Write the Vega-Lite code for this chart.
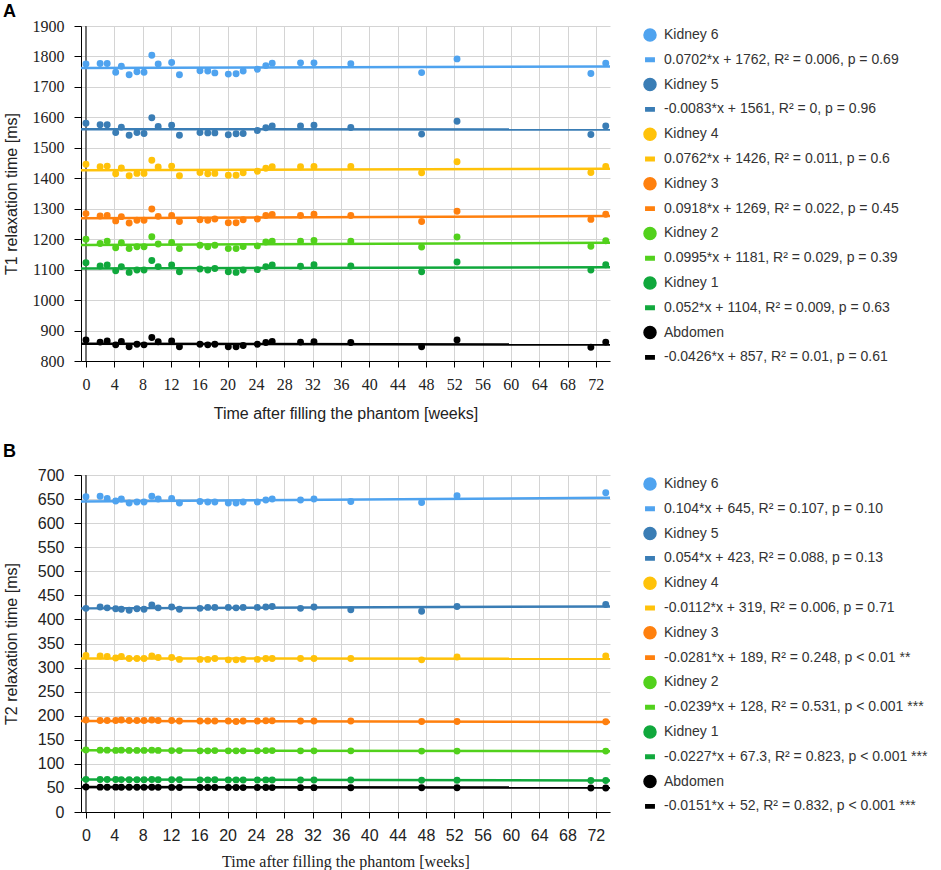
{
  "$schema": "https://vega.github.io/schema/vega-lite/v6.json",
  "background": "white",
  "padding": {"left": 3, "top": 3, "right": 5, "bottom": 3},
  "spacing": 22,
  "config": {
    "view": {"stroke": null},
    "axis": {"gridColor": "#d4d4d4", "domainColor": "#000", "tickColor": "#000", "labelColor": "#222", "titleColor": "#222", "titleFontWeight": "normal", "labelFont": "Liberation Serif", "labelFontSize": 16, "titleFontSize": 16, "labelOverlap": false, "labelFlush": false},
    "legend": {"labelFont": "Liberation Sans", "labelFontSize": 14, "labelColor": "#333", "labelLimit": 400, "symbolSize": 144, "rowPadding": 8.8, "offset": 26, "labelOffset": 7, "padding": 2},
    "title": {"font": "Liberation Sans", "fontSize": 18, "fontWeight": "bold", "anchor": "start", "frame": "bounds", "color": "#000"}
  },
  "datasets": {
    "a": [
      {"s":"Kidney 6","w":0,"v":1775},{"s":"Kidney 6","w":2,"v":1777},{"s":"Kidney 6","w":3,"v":1777},{"s":"Kidney 6","w":4.2,"v":1748},{"s":"Kidney 6","w":5,"v":1768},{"s":"Kidney 6","w":6.1,"v":1740},{"s":"Kidney 6","w":7.2,"v":1750},{"s":"Kidney 6","w":8.2,"v":1748},{"s":"Kidney 6","w":9.3,"v":1804},{"s":"Kidney 6","w":10.2,"v":1775},{"s":"Kidney 6","w":12.1,"v":1780},{"s":"Kidney 6","w":13.2,"v":1740},{"s":"Kidney 6","w":16.1,"v":1753},{"s":"Kidney 6","w":17.2,"v":1752},{"s":"Kidney 6","w":18.2,"v":1746},{"s":"Kidney 6","w":20.1,"v":1742},{"s":"Kidney 6","w":21.2,"v":1743},{"s":"Kidney 6","w":22.2,"v":1752},{"s":"Kidney 6","w":24.2,"v":1758},{"s":"Kidney 6","w":25.4,"v":1770},{"s":"Kidney 6","w":26.3,"v":1778},{"s":"Kidney 6","w":30.3,"v":1779},{"s":"Kidney 6","w":32.2,"v":1779},{"s":"Kidney 6","w":37.4,"v":1776},{"s":"Kidney 6","w":47.4,"v":1747},{"s":"Kidney 6","w":52.4,"v":1792},{"s":"Kidney 6","w":71.3,"v":1744},{"s":"Kidney 6","w":73.4,"v":1778},
      {"s":"Kidney 5","w":0,"v":1581},{"s":"Kidney 5","w":2,"v":1576},{"s":"Kidney 5","w":3,"v":1576},{"s":"Kidney 5","w":4.2,"v":1550},{"s":"Kidney 5","w":5,"v":1568},{"s":"Kidney 5","w":6.1,"v":1541},{"s":"Kidney 5","w":7.2,"v":1550},{"s":"Kidney 5","w":8.2,"v":1547},{"s":"Kidney 5","w":9.3,"v":1599},{"s":"Kidney 5","w":10.2,"v":1570},{"s":"Kidney 5","w":12.1,"v":1574},{"s":"Kidney 5","w":13.2,"v":1541},{"s":"Kidney 5","w":16.1,"v":1550},{"s":"Kidney 5","w":17.2,"v":1549},{"s":"Kidney 5","w":18.2,"v":1549},{"s":"Kidney 5","w":20.1,"v":1543},{"s":"Kidney 5","w":21.2,"v":1546},{"s":"Kidney 5","w":22.2,"v":1547},{"s":"Kidney 5","w":24.2,"v":1557},{"s":"Kidney 5","w":25.4,"v":1566},{"s":"Kidney 5","w":26.3,"v":1572},{"s":"Kidney 5","w":30.3,"v":1572},{"s":"Kidney 5","w":32.2,"v":1574},{"s":"Kidney 5","w":37.4,"v":1567},{"s":"Kidney 5","w":47.4,"v":1545},{"s":"Kidney 5","w":52.4,"v":1587},{"s":"Kidney 5","w":71.3,"v":1544},{"s":"Kidney 5","w":73.4,"v":1572},
      {"s":"Kidney 4","w":0,"v":1446},{"s":"Kidney 4","w":2,"v":1438},{"s":"Kidney 4","w":3,"v":1440},{"s":"Kidney 4","w":4.2,"v":1415},{"s":"Kidney 4","w":5,"v":1434},{"s":"Kidney 4","w":6.1,"v":1408},{"s":"Kidney 4","w":7.2,"v":1416},{"s":"Kidney 4","w":8.2,"v":1416},{"s":"Kidney 4","w":9.3,"v":1459},{"s":"Kidney 4","w":10.2,"v":1437},{"s":"Kidney 4","w":12.1,"v":1440},{"s":"Kidney 4","w":13.2,"v":1408},{"s":"Kidney 4","w":16.1,"v":1419},{"s":"Kidney 4","w":17.2,"v":1415},{"s":"Kidney 4","w":18.2,"v":1416},{"s":"Kidney 4","w":20.1,"v":1410},{"s":"Kidney 4","w":21.2,"v":1410},{"s":"Kidney 4","w":22.2,"v":1418},{"s":"Kidney 4","w":24.2,"v":1423},{"s":"Kidney 4","w":25.4,"v":1433},{"s":"Kidney 4","w":26.3,"v":1438},{"s":"Kidney 4","w":30.3,"v":1438},{"s":"Kidney 4","w":32.2,"v":1439},{"s":"Kidney 4","w":37.4,"v":1439},{"s":"Kidney 4","w":47.4,"v":1418},{"s":"Kidney 4","w":52.4,"v":1454},{"s":"Kidney 4","w":71.3,"v":1419},{"s":"Kidney 4","w":73.4,"v":1439},
      {"s":"Kidney 3","w":0,"v":1284},{"s":"Kidney 3","w":2,"v":1276},{"s":"Kidney 3","w":3,"v":1278},{"s":"Kidney 3","w":4.2,"v":1260},{"s":"Kidney 3","w":5,"v":1274},{"s":"Kidney 3","w":6.1,"v":1253},{"s":"Kidney 3","w":7.2,"v":1262},{"s":"Kidney 3","w":8.2,"v":1262},{"s":"Kidney 3","w":9.3,"v":1299},{"s":"Kidney 3","w":10.2,"v":1275},{"s":"Kidney 3","w":12.1,"v":1278},{"s":"Kidney 3","w":13.2,"v":1258},{"s":"Kidney 3","w":16.1,"v":1264},{"s":"Kidney 3","w":17.2,"v":1262},{"s":"Kidney 3","w":18.2,"v":1266},{"s":"Kidney 3","w":20.1,"v":1254},{"s":"Kidney 3","w":21.2,"v":1254},{"s":"Kidney 3","w":22.2,"v":1264},{"s":"Kidney 3","w":24.2,"v":1266},{"s":"Kidney 3","w":25.4,"v":1278},{"s":"Kidney 3","w":26.3,"v":1281},{"s":"Kidney 3","w":30.3,"v":1278},{"s":"Kidney 3","w":32.2,"v":1282},{"s":"Kidney 3","w":37.4,"v":1278},{"s":"Kidney 3","w":47.4,"v":1258},{"s":"Kidney 3","w":52.4,"v":1292},{"s":"Kidney 3","w":71.3,"v":1265},{"s":"Kidney 3","w":73.4,"v":1282},
      {"s":"Kidney 2","w":0,"v":1200},{"s":"Kidney 2","w":2,"v":1186},{"s":"Kidney 2","w":3,"v":1193},{"s":"Kidney 2","w":4.2,"v":1172},{"s":"Kidney 2","w":5,"v":1188},{"s":"Kidney 2","w":6.1,"v":1169},{"s":"Kidney 2","w":7.2,"v":1175},{"s":"Kidney 2","w":8.2,"v":1175},{"s":"Kidney 2","w":9.3,"v":1208},{"s":"Kidney 2","w":10.2,"v":1184},{"s":"Kidney 2","w":12.1,"v":1189},{"s":"Kidney 2","w":13.2,"v":1169},{"s":"Kidney 2","w":16.1,"v":1180},{"s":"Kidney 2","w":17.2,"v":1175},{"s":"Kidney 2","w":18.2,"v":1180},{"s":"Kidney 2","w":20.1,"v":1169},{"s":"Kidney 2","w":21.2,"v":1169},{"s":"Kidney 2","w":22.2,"v":1176},{"s":"Kidney 2","w":24.2,"v":1178},{"s":"Kidney 2","w":25.4,"v":1191},{"s":"Kidney 2","w":26.3,"v":1193},{"s":"Kidney 2","w":30.3,"v":1193},{"s":"Kidney 2","w":32.2,"v":1196},{"s":"Kidney 2","w":37.4,"v":1193},{"s":"Kidney 2","w":47.4,"v":1174},{"s":"Kidney 2","w":52.4,"v":1207},{"s":"Kidney 2","w":71.3,"v":1177},{"s":"Kidney 2","w":73.4,"v":1195},
      {"s":"Kidney 1","w":0,"v":1123},{"s":"Kidney 1","w":2,"v":1112},{"s":"Kidney 1","w":3,"v":1115},{"s":"Kidney 1","w":4.2,"v":1096},{"s":"Kidney 1","w":5,"v":1110},{"s":"Kidney 1","w":6.1,"v":1091},{"s":"Kidney 1","w":7.2,"v":1099},{"s":"Kidney 1","w":8.2,"v":1099},{"s":"Kidney 1","w":9.3,"v":1130},{"s":"Kidney 1","w":10.2,"v":1110},{"s":"Kidney 1","w":12.1,"v":1115},{"s":"Kidney 1","w":13.2,"v":1093},{"s":"Kidney 1","w":16.1,"v":1102},{"s":"Kidney 1","w":17.2,"v":1099},{"s":"Kidney 1","w":18.2,"v":1104},{"s":"Kidney 1","w":20.1,"v":1093},{"s":"Kidney 1","w":21.2,"v":1091},{"s":"Kidney 1","w":22.2,"v":1099},{"s":"Kidney 1","w":24.2,"v":1100},{"s":"Kidney 1","w":25.4,"v":1110},{"s":"Kidney 1","w":26.3,"v":1115},{"s":"Kidney 1","w":30.3,"v":1111},{"s":"Kidney 1","w":32.2,"v":1116},{"s":"Kidney 1","w":37.4,"v":1112},{"s":"Kidney 1","w":47.4,"v":1093},{"s":"Kidney 1","w":52.4,"v":1125},{"s":"Kidney 1","w":71.3,"v":1099},{"s":"Kidney 1","w":73.4,"v":1116},
      {"s":"Abdomen","w":0,"v":869},{"s":"Abdomen","w":2,"v":862},{"s":"Abdomen","w":3,"v":866},{"s":"Abdomen","w":4.2,"v":853},{"s":"Abdomen","w":5,"v":864},{"s":"Abdomen","w":6.1,"v":847},{"s":"Abdomen","w":7.2,"v":855},{"s":"Abdomen","w":8.2,"v":853},{"s":"Abdomen","w":9.3,"v":877},{"s":"Abdomen","w":10.2,"v":863},{"s":"Abdomen","w":12.1,"v":866},{"s":"Abdomen","w":13.2,"v":847},{"s":"Abdomen","w":16.1,"v":855},{"s":"Abdomen","w":17.2,"v":853},{"s":"Abdomen","w":18.2,"v":855},{"s":"Abdomen","w":20.1,"v":847},{"s":"Abdomen","w":21.2,"v":847},{"s":"Abdomen","w":22.2,"v":851},{"s":"Abdomen","w":24.2,"v":855},{"s":"Abdomen","w":25.4,"v":861},{"s":"Abdomen","w":26.3,"v":864},{"s":"Abdomen","w":30.3,"v":862},{"s":"Abdomen","w":32.2,"v":863},{"s":"Abdomen","w":37.4,"v":861},{"s":"Abdomen","w":47.4,"v":847},{"s":"Abdomen","w":52.4,"v":869},{"s":"Abdomen","w":71.3,"v":845},{"s":"Abdomen","w":73.4,"v":862}
    ],
    "la": [
      {"s":"0.0702*x + 1762, R² = 0.006, p = 0.69","w":-0.7,"v":1761.95},{"s":"0.0702*x + 1762, R² = 0.006, p = 0.69","w":74,"v":1767.19},
      {"s":"-0.0083*x + 1561, R² = 0, p = 0.96","w":-0.7,"v":1561.01},{"s":"-0.0083*x + 1561, R² = 0, p = 0.96","w":74,"v":1560.39},
      {"s":"0.0762*x + 1426, R² = 0.011, p = 0.6","w":-0.7,"v":1425.95},{"s":"0.0762*x + 1426, R² = 0.011, p = 0.6","w":74,"v":1431.64},
      {"s":"0.0918*x + 1269, R² = 0.022, p = 0.45","w":-0.7,"v":1268.94},{"s":"0.0918*x + 1269, R² = 0.022, p = 0.45","w":74,"v":1275.79},
      {"s":"0.0995*x + 1181, R² = 0.029, p = 0.39","w":-0.7,"v":1180.93},{"s":"0.0995*x + 1181, R² = 0.029, p = 0.39","w":74,"v":1188.36},
      {"s":"0.052*x + 1104, R² = 0.009, p = 0.63","w":-0.7,"v":1103.96},{"s":"0.052*x + 1104, R² = 0.009, p = 0.63","w":74,"v":1107.85},
      {"s":"-0.0426*x + 857, R² = 0.01, p = 0.61","w":-0.7,"v":857.03},{"s":"-0.0426*x + 857, R² = 0.01, p = 0.61","w":74,"v":853.85}
    ],
    "za": [{"w":0,"v":800},{"w":0,"v":1900}],
    "b": [
      {"s":"Kidney 6","w":0,"v":655},{"s":"Kidney 6","w":2,"v":656},{"s":"Kidney 6","w":3,"v":651},{"s":"Kidney 6","w":4.2,"v":646},{"s":"Kidney 6","w":5,"v":650},{"s":"Kidney 6","w":6.1,"v":642},{"s":"Kidney 6","w":7.2,"v":644},{"s":"Kidney 6","w":8.2,"v":644},{"s":"Kidney 6","w":9.3,"v":656},{"s":"Kidney 6","w":10.2,"v":650},{"s":"Kidney 6","w":12.1,"v":651},{"s":"Kidney 6","w":13.2,"v":642},{"s":"Kidney 6","w":16.1,"v":645},{"s":"Kidney 6","w":17.2,"v":644},{"s":"Kidney 6","w":18.2,"v":644},{"s":"Kidney 6","w":20.1,"v":642},{"s":"Kidney 6","w":21.2,"v":642},{"s":"Kidney 6","w":22.2,"v":644},{"s":"Kidney 6","w":24.2,"v":644},{"s":"Kidney 6","w":25.4,"v":648},{"s":"Kidney 6","w":26.3,"v":650},{"s":"Kidney 6","w":30.3,"v":648},{"s":"Kidney 6","w":32.2,"v":650},{"s":"Kidney 6","w":37.4,"v":645},{"s":"Kidney 6","w":47.4,"v":643},{"s":"Kidney 6","w":52.4,"v":657},{"s":"Kidney 6","w":73.4,"v":663},
      {"s":"Kidney 5","w":0,"v":423},{"s":"Kidney 5","w":2,"v":426},{"s":"Kidney 5","w":3,"v":424},{"s":"Kidney 5","w":4.2,"v":422},{"s":"Kidney 5","w":5,"v":421},{"s":"Kidney 5","w":6.1,"v":419},{"s":"Kidney 5","w":7.2,"v":422},{"s":"Kidney 5","w":8.2,"v":421},{"s":"Kidney 5","w":9.3,"v":430},{"s":"Kidney 5","w":10.2,"v":424},{"s":"Kidney 5","w":12.1,"v":426},{"s":"Kidney 5","w":13.2,"v":421},{"s":"Kidney 5","w":16.1,"v":423},{"s":"Kidney 5","w":17.2,"v":425},{"s":"Kidney 5","w":18.2,"v":425},{"s":"Kidney 5","w":20.1,"v":425},{"s":"Kidney 5","w":21.2,"v":424},{"s":"Kidney 5","w":22.2,"v":425},{"s":"Kidney 5","w":24.2,"v":425},{"s":"Kidney 5","w":25.4,"v":426},{"s":"Kidney 5","w":26.3,"v":427},{"s":"Kidney 5","w":30.3,"v":423},{"s":"Kidney 5","w":32.2,"v":426},{"s":"Kidney 5","w":37.4,"v":420},{"s":"Kidney 5","w":47.4,"v":417},{"s":"Kidney 5","w":52.4,"v":427},{"s":"Kidney 5","w":73.4,"v":431},
      {"s":"Kidney 4","w":0,"v":325},{"s":"Kidney 4","w":2,"v":324},{"s":"Kidney 4","w":3,"v":323},{"s":"Kidney 4","w":4.2,"v":320},{"s":"Kidney 4","w":5,"v":323},{"s":"Kidney 4","w":6.1,"v":319},{"s":"Kidney 4","w":7.2,"v":319},{"s":"Kidney 4","w":8.2,"v":319},{"s":"Kidney 4","w":9.3,"v":324},{"s":"Kidney 4","w":10.2,"v":321},{"s":"Kidney 4","w":12.1,"v":321},{"s":"Kidney 4","w":13.2,"v":317},{"s":"Kidney 4","w":16.1,"v":317},{"s":"Kidney 4","w":17.2,"v":317},{"s":"Kidney 4","w":18.2,"v":319},{"s":"Kidney 4","w":20.1,"v":316},{"s":"Kidney 4","w":21.2,"v":316},{"s":"Kidney 4","w":22.2,"v":317},{"s":"Kidney 4","w":24.2,"v":317},{"s":"Kidney 4","w":25.4,"v":319},{"s":"Kidney 4","w":26.3,"v":319},{"s":"Kidney 4","w":30.3,"v":319},{"s":"Kidney 4","w":32.2,"v":319},{"s":"Kidney 4","w":37.4,"v":319},{"s":"Kidney 4","w":47.4,"v":316},{"s":"Kidney 4","w":52.4,"v":322},{"s":"Kidney 4","w":73.4,"v":324},
      {"s":"Kidney 3","w":0,"v":191},{"s":"Kidney 3","w":2,"v":190},{"s":"Kidney 3","w":3,"v":190},{"s":"Kidney 3","w":4.2,"v":190},{"s":"Kidney 3","w":5,"v":191},{"s":"Kidney 3","w":6.1,"v":190},{"s":"Kidney 3","w":7.2,"v":190},{"s":"Kidney 3","w":8.2,"v":190},{"s":"Kidney 3","w":9.3,"v":191},{"s":"Kidney 3","w":10.2,"v":190},{"s":"Kidney 3","w":12.1,"v":190},{"s":"Kidney 3","w":13.2,"v":189},{"s":"Kidney 3","w":16.1,"v":189},{"s":"Kidney 3","w":17.2,"v":189},{"s":"Kidney 3","w":18.2,"v":189},{"s":"Kidney 3","w":20.1,"v":189},{"s":"Kidney 3","w":21.2,"v":188},{"s":"Kidney 3","w":22.2,"v":189},{"s":"Kidney 3","w":24.2,"v":189},{"s":"Kidney 3","w":25.4,"v":189.5},{"s":"Kidney 3","w":26.3,"v":189.5},{"s":"Kidney 3","w":30.3,"v":189},{"s":"Kidney 3","w":32.2,"v":189},{"s":"Kidney 3","w":37.4,"v":189},{"s":"Kidney 3","w":47.4,"v":188},{"s":"Kidney 3","w":52.4,"v":188},{"s":"Kidney 3","w":73.4,"v":187.5},
      {"s":"Kidney 2","w":0,"v":129},{"s":"Kidney 2","w":2,"v":128.5},{"s":"Kidney 2","w":3,"v":128.5},{"s":"Kidney 2","w":4.2,"v":128},{"s":"Kidney 2","w":5,"v":128.5},{"s":"Kidney 2","w":6.1,"v":128},{"s":"Kidney 2","w":7.2,"v":128},{"s":"Kidney 2","w":8.2,"v":128},{"s":"Kidney 2","w":9.3,"v":128.5},{"s":"Kidney 2","w":10.2,"v":128},{"s":"Kidney 2","w":12.1,"v":127.5},{"s":"Kidney 2","w":13.2,"v":127.5},{"s":"Kidney 2","w":16.1,"v":127},{"s":"Kidney 2","w":17.2,"v":127},{"s":"Kidney 2","w":18.2,"v":127.5},{"s":"Kidney 2","w":20.1,"v":127},{"s":"Kidney 2","w":21.2,"v":127},{"s":"Kidney 2","w":22.2,"v":127},{"s":"Kidney 2","w":24.2,"v":127},{"s":"Kidney 2","w":25.4,"v":127.5},{"s":"Kidney 2","w":26.3,"v":127.5},{"s":"Kidney 2","w":30.3,"v":127},{"s":"Kidney 2","w":32.2,"v":127},{"s":"Kidney 2","w":37.4,"v":127},{"s":"Kidney 2","w":47.4,"v":126.5},{"s":"Kidney 2","w":52.4,"v":126.5},{"s":"Kidney 2","w":73.4,"v":126.5},
      {"s":"Kidney 1","w":0,"v":67.8},{"s":"Kidney 1","w":2,"v":67.5},{"s":"Kidney 1","w":3,"v":67.4},{"s":"Kidney 1","w":4.2,"v":67.6},{"s":"Kidney 1","w":5,"v":67.3},{"s":"Kidney 1","w":6.1,"v":67.1},{"s":"Kidney 1","w":7.2,"v":67.2},{"s":"Kidney 1","w":8.2,"v":67},{"s":"Kidney 1","w":9.3,"v":67.4},{"s":"Kidney 1","w":10.2,"v":67.1},{"s":"Kidney 1","w":12.1,"v":66.9},{"s":"Kidney 1","w":13.2,"v":67},{"s":"Kidney 1","w":16.1,"v":66.8},{"s":"Kidney 1","w":17.2,"v":66.7},{"s":"Kidney 1","w":18.2,"v":66.9},{"s":"Kidney 1","w":20.1,"v":66.6},{"s":"Kidney 1","w":21.2,"v":66.7},{"s":"Kidney 1","w":22.2,"v":66.5},{"s":"Kidney 1","w":24.2,"v":66.6},{"s":"Kidney 1","w":25.4,"v":66.7},{"s":"Kidney 1","w":26.3,"v":66.5},{"s":"Kidney 1","w":30.3,"v":66.4},{"s":"Kidney 1","w":32.2,"v":66.5},{"s":"Kidney 1","w":37.4,"v":66.3},{"s":"Kidney 1","w":47.4,"v":66.1},{"s":"Kidney 1","w":52.4,"v":66},{"s":"Kidney 1","w":71.3,"v":65.6},{"s":"Kidney 1","w":73.4,"v":65.5},
      {"s":"Abdomen","w":0,"v":51.8},{"s":"Abdomen","w":2,"v":51.6},{"s":"Abdomen","w":3,"v":51.5},{"s":"Abdomen","w":4.2,"v":51.6},{"s":"Abdomen","w":5,"v":51.4},{"s":"Abdomen","w":6.1,"v":51.3},{"s":"Abdomen","w":7.2,"v":51.4},{"s":"Abdomen","w":8.2,"v":51.2},{"s":"Abdomen","w":9.3,"v":51.5},{"s":"Abdomen","w":10.2,"v":51.2},{"s":"Abdomen","w":12.1,"v":51.1},{"s":"Abdomen","w":13.2,"v":51},{"s":"Abdomen","w":16.1,"v":51},{"s":"Abdomen","w":17.2,"v":50.9},{"s":"Abdomen","w":18.2,"v":51},{"s":"Abdomen","w":20.1,"v":50.8},{"s":"Abdomen","w":21.2,"v":50.9},{"s":"Abdomen","w":22.2,"v":50.7},{"s":"Abdomen","w":24.2,"v":50.8},{"s":"Abdomen","w":25.4,"v":50.8},{"s":"Abdomen","w":26.3,"v":50.7},{"s":"Abdomen","w":30.3,"v":50.6},{"s":"Abdomen","w":32.2,"v":50.6},{"s":"Abdomen","w":37.4,"v":50.4},{"s":"Abdomen","w":47.4,"v":50.3},{"s":"Abdomen","w":52.4,"v":50.2},{"s":"Abdomen","w":71.3,"v":50},{"s":"Abdomen","w":73.4,"v":49.9}
    ],
    "lb": [
      {"s":"0.104*x + 645, R² = 0.107, p = 0.10","w":-0.7,"v":644.93},{"s":"0.104*x + 645, R² = 0.107, p = 0.10","w":74,"v":652.7},
      {"s":"0.054*x + 423, R² = 0.088, p = 0.13","w":-0.7,"v":422.96},{"s":"0.054*x + 423, R² = 0.088, p = 0.13","w":74,"v":427},
      {"s":"-0.0112*x + 319, R² = 0.006, p = 0.71","w":-0.7,"v":319.01},{"s":"-0.0112*x + 319, R² = 0.006, p = 0.71","w":74,"v":318.17},
      {"s":"-0.0281*x + 189, R² = 0.248, p < 0.01 **","w":-0.7,"v":189.02},{"s":"-0.0281*x + 189, R² = 0.248, p < 0.01 **","w":74,"v":186.92},
      {"s":"-0.0239*x + 128, R² = 0.531, p < 0.001 ***","w":-0.7,"v":128.02},{"s":"-0.0239*x + 128, R² = 0.531, p < 0.001 ***","w":74,"v":126.23},
      {"s":"-0.0227*x + 67.3, R² = 0.823, p < 0.001 ***","w":-0.7,"v":67.32},{"s":"-0.0227*x + 67.3, R² = 0.823, p < 0.001 ***","w":74,"v":65.62},
      {"s":"-0.0151*x + 52, R² = 0.832, p < 0.001 ***","w":-0.7,"v":52.01},{"s":"-0.0151*x + 52, R² = 0.832, p < 0.001 ***","w":74,"v":50.88}
    ],
    "zb": [{"w":0,"v":0},{"w":0,"v":700}]
  },
  "vconcat": [
    {
      "title": {"text": "A", "offset": -3},
      "width": 529,
      "height": 335,
      "encoding": {
        "x": {"field": "w", "type": "quantitative", "scale": {"domain": [-0.7, 74], "nice": false, "zero": false},
              "axis": {"values": [0,4,8,12,16,20,24,28,32,36,40,44,48,52,56,60,64,68,72], "title": "Time after filling the phantom [weeks]", "labelFont": "Liberation Serif", "titleFont": "Liberation Sans", "tickSize": 6, "labelPadding": 9, "titlePadding": 13}},
        "y": {"field": "v", "type": "quantitative", "scale": {"domain": [800, 1900], "nice": false, "zero": false},
              "axis": {"values": [800,900,1000,1100,1200,1300,1400,1500,1600,1700,1800,1900], "format": "d", "title": "T1 relaxation time [ms]", "labelFont": "Liberation Serif", "titleFont": "Liberation Sans", "tickSize": 7, "labelPadding": 10, "titlePadding": 13, "minExtent": 49}}
      },
      "layer": [
        {
          "data": {"name": "za"},
          "mark": {"type": "line", "color": "#000", "strokeWidth": 1},
          "encoding": {}
        },
        {
          "data": {"name": "la"},
          "mark": {"type": "line", "strokeWidth": 2.5},
          "encoding": {
            "color": {"field": "s", "type": "nominal", "legend": {"title": null},
                      "scale": {"domain": ["Kidney 6", "0.0702*x + 1762, R² = 0.006, p = 0.69", "Kidney 5", "-0.0083*x + 1561, R² = 0, p = 0.96", "Kidney 4", "0.0762*x + 1426, R² = 0.011, p = 0.6", "Kidney 3", "0.0918*x + 1269, R² = 0.022, p = 0.45", "Kidney 2", "0.0995*x + 1181, R² = 0.029, p = 0.39", "Kidney 1", "0.052*x + 1104, R² = 0.009, p = 0.63", "Abdomen", "-0.0426*x + 857, R² = 0.01, p = 0.61"],
                                "range": ["#4fa3ef", "#4fa3ef", "#3a7db5", "#3a7db5", "#ffc20a", "#ffc20a", "#ff800e", "#ff800e", "#52d11c", "#52d11c", "#10a83c", "#10a83c", "#000000", "#000000"]}}
          }
        },
        {
          "data": {"name": "a"},
          "mark": {"type": "point", "filled": true, "size": 48, "opacity": 1},
          "encoding": {
            "color": {"field": "s", "type": "nominal", "legend": {"title": null}},
            "shape": {"field": "s", "type": "nominal", "legend": {"title": null},
                      "scale": {"domain": ["Kidney 6", "0.0702*x + 1762, R² = 0.006, p = 0.69", "Kidney 5", "-0.0083*x + 1561, R² = 0, p = 0.96", "Kidney 4", "0.0762*x + 1426, R² = 0.011, p = 0.6", "Kidney 3", "0.0918*x + 1269, R² = 0.022, p = 0.45", "Kidney 2", "0.0995*x + 1181, R² = 0.029, p = 0.39", "Kidney 1", "0.052*x + 1104, R² = 0.009, p = 0.63", "Abdomen", "-0.0426*x + 857, R² = 0.01, p = 0.61"],
                                "range": ["circle", "M-0.7,-0.28H0.7V0.28H-0.7Z", "circle", "M-0.7,-0.28H0.7V0.28H-0.7Z", "circle", "M-0.7,-0.28H0.7V0.28H-0.7Z", "circle", "M-0.7,-0.28H0.7V0.28H-0.7Z", "circle", "M-0.7,-0.28H0.7V0.28H-0.7Z", "circle", "M-0.7,-0.28H0.7V0.28H-0.7Z", "circle", "M-0.7,-0.28H0.7V0.28H-0.7Z"]}}
          }
        }
      ]
    },
    {
      "title": {"text": "B", "offset": 6},
      "width": 529,
      "height": 337,
      "encoding": {
        "x": {"field": "w", "type": "quantitative", "scale": {"domain": [-0.7, 74], "nice": false, "zero": false},
              "axis": {"values": [0,4,8,12,16,20,24,28,32,36,40,44,48,52,56,60,64,68,72], "title": "Time after filling the phantom [weeks]", "labelFont": "Liberation Sans", "titleFont": "Liberation Serif", "tickSize": 6, "labelPadding": 9, "titlePadding": 10}},
        "y": {"field": "v", "type": "quantitative", "scale": {"domain": [0, 700], "nice": false},
              "axis": {"values": [0,50,100,150,200,250,300,350,400,450,500,550,600,650,700], "format": "d", "title": "T2 relaxation time [ms]", "labelFont": "Liberation Sans", "titleFont": "Liberation Sans", "tickSize": 7, "labelPadding": 10, "titlePadding": 13, "minExtent": 49}}
      },
      "layer": [
        {
          "data": {"name": "zb"},
          "mark": {"type": "line", "color": "#000", "strokeWidth": 1},
          "encoding": {}
        },
        {
          "data": {"name": "lb"},
          "mark": {"type": "line", "strokeWidth": 2.5},
          "encoding": {
            "color": {"field": "s", "type": "nominal", "legend": {"title": null},
                      "scale": {"domain": ["Kidney 6", "0.104*x + 645, R² = 0.107, p = 0.10", "Kidney 5", "0.054*x + 423, R² = 0.088, p = 0.13", "Kidney 4", "-0.0112*x + 319, R² = 0.006, p = 0.71", "Kidney 3", "-0.0281*x + 189, R² = 0.248, p < 0.01 **", "Kidney 2", "-0.0239*x + 128, R² = 0.531, p < 0.001 ***", "Kidney 1", "-0.0227*x + 67.3, R² = 0.823, p < 0.001 ***", "Abdomen", "-0.0151*x + 52, R² = 0.832, p < 0.001 ***"],
                                "range": ["#4fa3ef", "#4fa3ef", "#3a7db5", "#3a7db5", "#ffc20a", "#ffc20a", "#ff800e", "#ff800e", "#52d11c", "#52d11c", "#10a83c", "#10a83c", "#000000", "#000000"]}}
          }
        },
        {
          "data": {"name": "b"},
          "mark": {"type": "point", "filled": true, "size": 48, "opacity": 1},
          "encoding": {
            "color": {"field": "s", "type": "nominal", "legend": {"title": null}},
            "shape": {"field": "s", "type": "nominal", "legend": {"title": null},
                      "scale": {"domain": ["Kidney 6", "0.104*x + 645, R² = 0.107, p = 0.10", "Kidney 5", "0.054*x + 423, R² = 0.088, p = 0.13", "Kidney 4", "-0.0112*x + 319, R² = 0.006, p = 0.71", "Kidney 3", "-0.0281*x + 189, R² = 0.248, p < 0.01 **", "Kidney 2", "-0.0239*x + 128, R² = 0.531, p < 0.001 ***", "Kidney 1", "-0.0227*x + 67.3, R² = 0.823, p < 0.001 ***", "Abdomen", "-0.0151*x + 52, R² = 0.832, p < 0.001 ***"],
                                "range": ["circle", "M-0.7,-0.28H0.7V0.28H-0.7Z", "circle", "M-0.7,-0.28H0.7V0.28H-0.7Z", "circle", "M-0.7,-0.28H0.7V0.28H-0.7Z", "circle", "M-0.7,-0.28H0.7V0.28H-0.7Z", "circle", "M-0.7,-0.28H0.7V0.28H-0.7Z", "circle", "M-0.7,-0.28H0.7V0.28H-0.7Z", "circle", "M-0.7,-0.28H0.7V0.28H-0.7Z"]}}
          }
        }
      ]
    }
  ],
  "resolve": {"scale": {"color": "independent", "shape": "independent"}, "legend": {"color": "independent", "shape": "independent"}}
}
